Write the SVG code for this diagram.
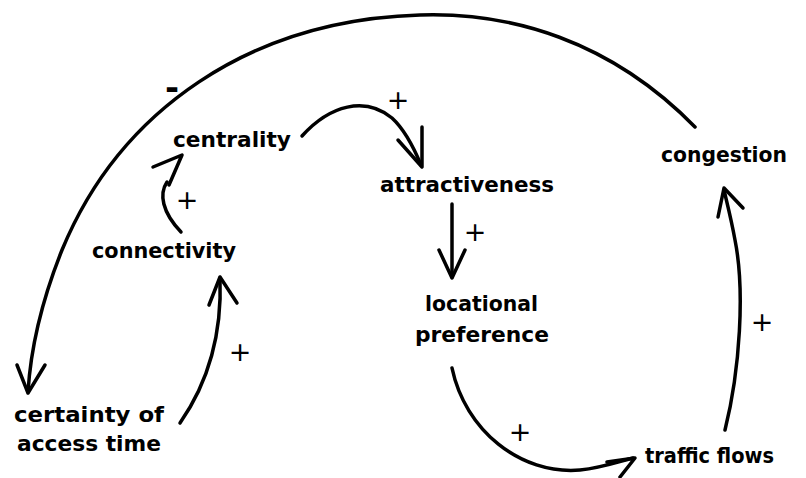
<svg xmlns="http://www.w3.org/2000/svg" width="806" height="478" viewBox="0 0 806 478">
<style>
.lbl{font-family:"DejaVu Sans","Liberation Sans",sans-serif;font-weight:bold;font-size:21.5px;fill:#000}
.sgn{font-family:"DejaVu Sans","Liberation Sans",sans-serif;font-size:27px;fill:#000;text-anchor:middle}
.neg{font-family:"DejaVu Sans","Liberation Sans",sans-serif;font-weight:bold;font-size:34px;fill:#000;text-anchor:middle}
.c{fill:none;stroke:#000;stroke-width:3.5;stroke-linecap:round;stroke-linejoin:round}
</style>
<rect width="806" height="478" fill="#fff"/>
<g id="connectors">
<path class="c" d="M695,127 C610,40 510,12 420,15 C250,20 120,110 62,250 C38,310 30,360 28,392"/>
<path class="c" d="M17,365 L28,393 L45,365"/>
<path class="c" d="M302,136 C330,105 365,96 392,118 C405,130 414,148 421,165"/>
<path class="c" d="M398,140 L422,167 L422,127"/>
<path class="c" d="M452,204 L452,277"/>
<path class="c" d="M439,250 L452,278 L465,250"/>
<path class="c" d="M452,368 C465,430 520,475 580,470 C600,468 618,462 633,458"/>
<path class="c" d="M607,462 L635,458 L620,477"/>
<path class="c" d="M725,430 C740,370 745,290 735,240 C731,218 727,203 724,190"/>
<path class="c" d="M718,217 L724,188 L743,208"/>
<path class="c" d="M180,423 C210,380 222,330 220,278"/>
<path class="c" d="M209,305 L220,277 L237,303"/>
<path class="c" d="M181,232 C162,212 159,194 167,182"/>
<path class="c" d="M153,167 L182,155 L169,185"/>
</g>
<g id="signs">
<text class="neg" x="172" y="99">-</text>
<text class="sgn" x="398" y="109">+</text>
<text class="sgn" x="475" y="241">+</text>
<text class="sgn" x="187" y="209">+</text>
<text class="sgn" x="240" y="361">+</text>
<text class="sgn" x="520" y="441">+</text>
<text class="sgn" x="762" y="331">+</text>
</g>
<g id="centrality"><text class="lbl" x="173" y="147" textLength="118" lengthAdjust="spacingAndGlyphs">centrality</text></g>
<g id="attractiveness"><text class="lbl" x="380" y="192" textLength="174" lengthAdjust="spacingAndGlyphs">attractiveness</text></g>
<g id="congestion"><text class="lbl" x="661" y="162" textLength="126" lengthAdjust="spacingAndGlyphs">congestion</text></g>
<g id="connectivity"><text class="lbl" x="92" y="258" textLength="144" lengthAdjust="spacingAndGlyphs">connectivity</text></g>
<g id="locational-preference"><text class="lbl" x="425" y="311" textLength="113" lengthAdjust="spacingAndGlyphs">locational</text><text class="lbl" x="415" y="342" textLength="134" lengthAdjust="spacingAndGlyphs">preference</text></g>
<g id="certainty"><text class="lbl" x="14" y="422" textLength="150" lengthAdjust="spacingAndGlyphs">certainty of</text><text class="lbl" x="17" y="451" textLength="144" lengthAdjust="spacingAndGlyphs">access time</text></g>
<g id="traffic-flows"><text class="lbl" x="645" y="463" textLength="129" lengthAdjust="spacingAndGlyphs">traffic flows</text></g>
</svg>
